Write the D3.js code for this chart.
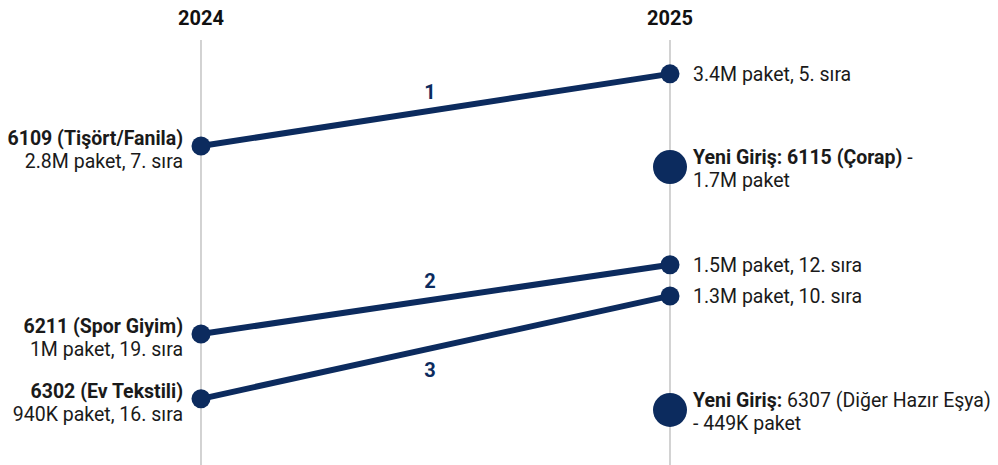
<!DOCTYPE html>
<html>
<head>
<meta charset="utf-8">
<script src="https://cdn.jsdelivr.net/npm/d3@7"></script>
<style>
  html, body { margin: 0; padding: 0; background: #fff; }
  svg text { font-family: Roboto, "Noto Sans", sans-serif; }
</style>
</head>
<body>
<svg id="chart" width="998" height="465"></svg>
<script>
// ---------- DATA ----------
const years = ["2024", "2025"];
const codes = ["6109 (Tişört/Fanila)", "6211 (Spor Giyim)", "6302 (Ev Tekstili)"];
const rankOrder = ["1", "2", "3"];
const packets2024 = ["2.8M", "1M", "940K"];
const ranks2024 = [7, 19, 16];
const packets2025 = ["3.4M", "1.5M", "1.3M"];
const ranks2025 = [5, 12, 10];
const newCodes = ["6115 (Çorap)", "6307 (Diğer Hazır Eşya)"];
const newPackets = ["1.7M", "449K"];

// ---------- LAYOUT (row slots in abstract units 0..100) ----------
const slot2024 = [25.3, 69.3, 84.5];
const slot2025 = [8.4, 53.1, 60.4];
const slotNew = [30.2, 87.1];

const W = 998, H = 465;
const navy = "#0c2b5e";
const textColor = "#1a1a1a";
const FS = 19.5;
const svg = d3.select("#chart");

const x = d3.scalePoint().domain(years).range([201, 670]);
const y = d3.scaleLinear().domain([0, 100]).range([38, 465]);

// vertical axis lines
svg.selectAll("line.axis").data(years).join("line")
  .attr("class", "axis")
  .attr("x1", d => x(d)).attr("x2", d => x(d))
  .attr("y1", 40).attr("y2", H)
  .attr("stroke", "#b5b5b5").attr("stroke-width", 1.2);

// year labels
svg.selectAll("text.year").data(years).join("text")
  .attr("class", "year")
  .attr("x", d => x(d)).attr("y", 25)
  .attr("text-anchor", "middle")
  .attr("font-size", 20).attr("font-weight", 700)
  .attr("fill", "#111")
  .text(d => d);

const items = codes.map((c, i) => ({
  code: c, order: rankOrder[i],
  p1: packets2024[i], r1: ranks2024[i], y1: y(slot2024[i]),
  p2: packets2025[i], r2: ranks2025[i], y2: y(slot2025[i])
}));

// slope lines
svg.selectAll("line.slope").data(items).join("line")
  .attr("class", "slope")
  .attr("x1", x("2024")).attr("y1", d => d.y1)
  .attr("x2", x("2025")).attr("y2", d => d.y2)
  .attr("stroke", navy).attr("stroke-width", 6);

// endpoints
svg.selectAll("circle.p1").data(items).join("circle")
  .attr("class", "p1").attr("cx", x("2024")).attr("cy", d => d.y1)
  .attr("r", 9.5).attr("fill", navy);
svg.selectAll("circle.p2").data(items).join("circle")
  .attr("class", "p2").attr("cx", x("2025")).attr("cy", d => d.y2)
  .attr("r", 9.5).attr("fill", navy);

// order numbers on lines (above for 1,2; below for 3)
svg.selectAll("text.order").data(items).join("text")
  .attr("class", "order")
  .attr("x", 430)
  .attr("y", (d, i) => {
    const my = d.y1 + (d.y2 - d.y1) * ((430 - x("2024")) / (x("2025") - x("2024")));
    return i < 2 ? my - 12 : my + 28;
  })
  .attr("text-anchor", "middle")
  .attr("font-size", 20).attr("font-weight", 700)
  .attr("fill", navy)
  .text(d => d.order);

// left labels
const left = svg.selectAll("g.left").data(items).join("g").attr("class", "left");
left.append("text")
  .attr("x", 183).attr("y", d => d.y1 - 1)
  .attr("text-anchor", "end").attr("font-size", FS).attr("font-weight", 700)
  .attr("fill", textColor).text(d => d.code);
left.append("text")
  .attr("x", 183).attr("y", d => d.y1 + 22)
  .attr("text-anchor", "end").attr("font-size", FS)
  .attr("fill", textColor).text(d => `${d.p1} paket, ${d.r1}. sıra`);

// right labels
svg.selectAll("text.right").data(items).join("text")
  .attr("class", "right")
  .attr("x", 693).attr("y", d => d.y2 + 7)
  .attr("font-size", FS).attr("fill", textColor)
  .text(d => `${d.p2} paket, ${d.r2}. sıra`);

// new entries
const news = newCodes.map((c, i) => ({ code: c, p: newPackets[i], y: y(slotNew[i]), idx: i }));
svg.selectAll("circle.new").data(news).join("circle")
  .attr("class", "new").attr("cx", x("2025")).attr("cy", d => d.y)
  .attr("r", 17).attr("fill", navy);

const ng = svg.selectAll("g.new").data(news).join("g").attr("class", "new");
ng.each(function(d) {
  const g = d3.select(this);
  const t1 = g.append("text").attr("x", 693).attr("y", d.y - 3)
    .attr("font-size", FS).attr("fill", textColor);
  if (d.idx === 0) {
    t1.append("tspan").attr("font-weight", 700).text(`Yeni Giriş: ${d.code} `);
    t1.append("tspan").text("-");
    g.append("text").attr("x", 693).attr("y", d.y + 20)
      .attr("font-size", FS).attr("fill", textColor).text(`${d.p} paket`);
  } else {
    t1.append("tspan").attr("font-weight", 700).text("Yeni Giriş:");
    t1.append("tspan").text(` ${d.code}`);
    g.append("text").attr("x", 693).attr("y", d.y + 20)
      .attr("font-size", FS).attr("fill", textColor).text(`- ${d.p} paket`);
  }
});
</script>
</body>
</html>
